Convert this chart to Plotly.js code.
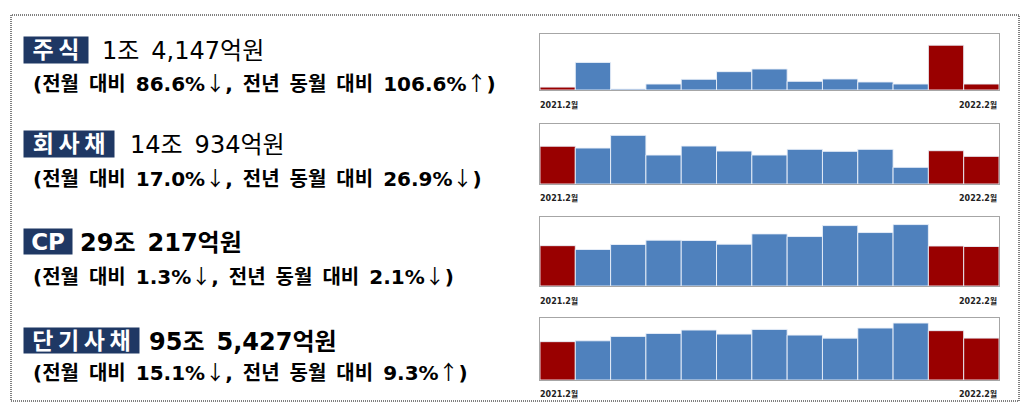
<!DOCTYPE html>
<html>
<head>
<meta charset="utf-8">
<script src="https://cdn.plot.ly/plotly-3.0.1.min.js"></script>
<style>
  html, body { margin: 0; padding: 0; background: #fff; }
  #chart { width: 1026px; height: 409px; }
</style>
</head>
<body>
<div id="chart"></div>
<script>
// months 2021.2 ~ 2022.2 (13 bars per panel)
var months = ['2021.2', '2021.3', '2021.4', '2021.5', '2021.6', '2021.7', '2021.8',
              '2021.9', '2021.10', '2021.11', '2021.12', '2022.1', '2022.2'];

// issuance amounts, 조원
var stockVals = [0.68, 6.50, 0.24, 1.41, 2.52, 4.32, 4.95, 2.04, 2.60, 1.89, 1.41, 10.56, 1.41];
var bondVals  = [19.27, 18.34, 24.80, 14.77, 19.36, 16.81, 14.77, 17.66, 16.64, 17.66, 8.49, 16.98, 14.09];
var cpVals    = [29.64, 26.83, 30.49, 33.66, 33.41, 30.73, 38.29, 36.34, 44.39, 39.27, 45.12, 29.40, 29.02];
var stbVals   = [87.41, 89.40, 99.40, 106.20, 113.90, 104.70, 115.40, 102.40, 95.50, 118.50, 129.90, 112.50, 95.54];

var labels  = ['주식', '회사채', 'CP', '단기사채'];
var amounts = ['1조 4,147억원', '14조 934억원', '29조 217억원', '95조 5,427억원'];
var changes = ['(전월 대비 86.6%↓, 전년 동월 대비 106.6%↑)',
               '(전월 대비 17.0%↓, 전년 동월 대비 26.9%↓)',
               '(전월 대비 1.3%↓, 전년 동월 대비 2.1%↓)',
               '(전월 대비 15.1%↓, 전년 동월 대비 9.3%↑)'];
var startLabel = '2021.2월';
var endLabel = '2022.2월';

var W = 1026, H = 409;
function px(x) { return x / W; }
function py(y) { return 1 - y / H; }

var RED = '#990000', BLUE = '#4f81bd', NAVY = '#1f3864';
var KFONT = '"DejaVu Sans", "Noto Sans CJK KR", sans-serif';

// panel geometry in pixels
var panels = [
    { vals: stockVals, top: 34,  bottom: 90,  ymax: 13.2,  labelY: 105 },
    { vals: bondVals,  top: 124, bottom: 184, ymax: 30.6,  labelY: 198 },
    { vals: cpVals,    top: 217, bottom: 286, ymax: 50.7,  labelY: 301 },
    { vals: stbVals,   top: 318, bottom: 380, ymax: 141.4, labelY: 394 }
];
var textRows = [
    { boxW: 64,  boxTop: 37,  boxBot: 63,  amountX: 100, bold: false, line2Y: 82 },
    { boxW: 90,  boxTop: 131, boxBot: 157, amountX: 128, bold: false, line2Y: 177 },
    { boxW: 48,  boxTop: 229, boxBot: 254, amountX: 78,  bold: true,  line2Y: 275 },
    { boxW: 115, boxTop: 328, boxBot: 353, amountX: 147, bold: true,  line2Y: 371 }
];

var data = [];
var layout = {
    width: W, height: H,
    margin: { l: 0, r: 0, t: 0, b: 0 },
    paper_bgcolor: '#fff',
    plot_bgcolor: '#fff',
    showlegend: false,
    bargap: 0,
    annotations: [],
    shapes: [{
        type: 'rect', xref: 'paper', yref: 'paper',
        x0: px(11), x1: px(1019), y0: py(401), y1: py(15),
        line: { color: '#000', width: 1, dash: '1px,1px' }
    }]
};

panels.forEach(function (p, i) {
    var n = i === 0 ? '' : String(i + 1);
    var colors = p.vals.map(function (v, k) {
        return (k === 0 || k >= p.vals.length - 2) ? RED : BLUE;
    });
    data.push({
        type: 'bar',
        x: months,
        y: p.vals,
        xaxis: 'x' + n,
        yaxis: 'y' + n,
        marker: { color: colors, line: { color: 'rgba(235,241,250,0.9)', width: 1 } },
        hoverinfo: 'skip'
    });
    layout['xaxis' + n] = {
        domain: [px(540), px(999)],
        anchor: 'y' + n,
        type: 'category',
        showticklabels: false, ticks: '',
        showgrid: false, zeroline: false,
        showline: true, mirror: true, linecolor: '#a6a6a6', linewidth: 1
    };
    layout['yaxis' + n] = {
        domain: [py(p.bottom), py(p.top)],
        anchor: 'x' + n,
        range: [0, p.ymax],
        showticklabels: false, ticks: '',
        showgrid: false, zeroline: false,
        showline: true, mirror: true, linecolor: '#a6a6a6', linewidth: 1
    };
    var lblFont = { family: 'Tahoma, "DejaVu Sans", "Noto Sans CJK KR"', size: 8, color: '#222', weight: 'bold' };
    layout.annotations.push({
        xref: 'x' + n + ' domain', yref: 'paper', x: -0.005, y: py(p.labelY),
        xanchor: 'left', yanchor: 'middle', showarrow: false,
        text: startLabel, font: lblFont
    });
    layout.annotations.push({
        xref: 'x' + n + ' domain', yref: 'paper', x: 1.0, y: py(p.labelY),
        xanchor: 'right', yanchor: 'middle', showarrow: false,
        text: endLabel, font: lblFont
    });
});

// wider letter spacing for hangul labels, like the original typeface
function spaced(s) {
    return /^[A-Za-z]+$/.test(s) ? s : s.split('').join('\u2009');
}
// arrows in the CJK face are full width and thin
function arrows(s) {
    return s.replace(/([↓↑])/g, '<span style="font-family:Noto Sans CJK KR;font-weight:normal">$1</span>');
}

textRows.forEach(function (r, i) {
    var midY = (r.boxTop + r.boxBot) / 2;
    layout.annotations.push({
        xref: 'paper', yref: 'paper', x: px(23), y: py(midY),
        xanchor: 'left', yanchor: 'middle', showarrow: false,
        text: '<b>' + spaced(labels[i]) + '</b>',
        width: r.boxW, height: r.boxBot - r.boxTop, align: 'center', valign: 'middle',
        bgcolor: NAVY, borderpad: 0,
        font: { family: KFONT, size: 23, color: '#fff' }
    });
    layout.annotations.push({
        xref: 'paper', yref: 'paper', x: px(r.amountX), y: py(midY + 1),
        xanchor: 'left', yanchor: 'middle', showarrow: false, align: 'left',
        text: (r.bold ? '<b>' + amounts[i] + '</b>' : amounts[i]).replace(/ /g, '\u2002'),
        font: { family: KFONT, size: 24, color: '#000' }
    });
    layout.annotations.push({
        xref: 'paper', yref: 'paper', x: px(31), y: py(r.line2Y),
        xanchor: 'left', yanchor: 'middle', showarrow: false, align: 'left',
        text: '<b>' + arrows(changes[i].replace(/ /g, '\u2002')) + '</b>',
        font: { family: KFONT, size: 20, color: '#000' }
    });
});

Plotly.newPlot('chart', data, layout, { displayModeBar: false, staticPlot: true });
</script>
</body>
</html>
